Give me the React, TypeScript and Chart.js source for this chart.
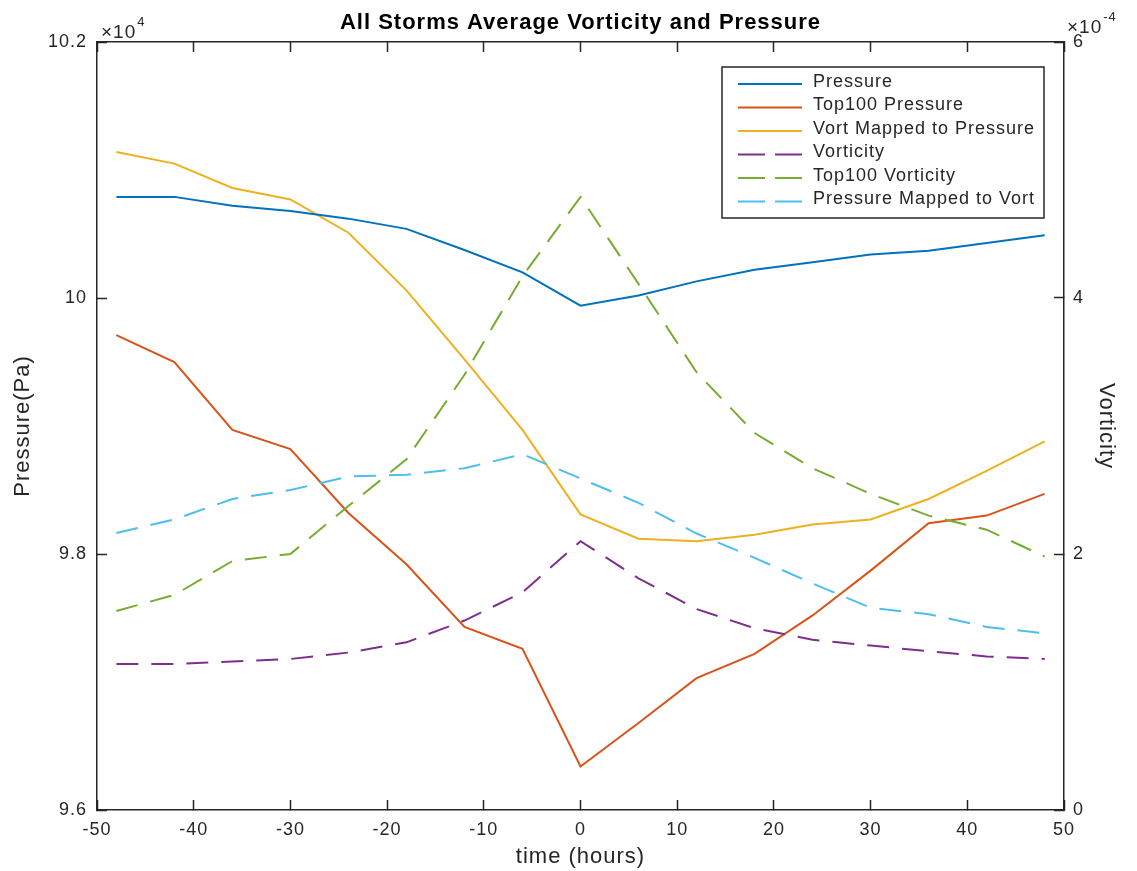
import { useEffect, useRef } from "react";
import Chart from "chart.js/auto";

// time relative to the storm peak, hours
const hours = [-48, -42, -36, -30, -24, -18, -12, -6, 0, 6, 12, 18, 24, 30, 36, 42, 48];

// left axis, Pa
const pressure = [100790, 100790, 100720, 100680, 100620, 100540, 100375, 100200, 99940, 100020, 100130, 100220, 100280, 100340, 100370, 100430, 100490];
const top100Pressure = [99710, 99500, 98970, 98820, 98320, 97920, 97430, 97260, 96340, 96680, 97030, 97220, 97520, 97870, 98240, 98300, 98470];
const vortMappedToPressure = [101140, 101050, 100860, 100770, 100510, 100060, 99520, 98970, 98310, 98120, 98100, 98150, 98230, 98270, 98430, 98650, 98880];

// right axis, 1/s
const vorticity = [1.14e-4, 1.14e-4, 1.16e-4, 1.18e-4, 1.23e-4, 1.31e-4, 1.48e-4, 1.7e-4, 2.1e-4, 1.81e-4, 1.57e-4, 1.42e-4, 1.33e-4, 1.285e-4, 1.24e-4, 1.2e-4, 1.18e-4];
const top100Vorticity = [1.555e-4, 1.68e-4, 1.945e-4, 2.0e-4, 2.375e-4, 2.74e-4, 3.4e-4, 4.17e-4, 4.79e-4, 4.11e-4, 3.42e-4, 2.945e-4, 2.67e-4, 2.47e-4, 2.3e-4, 2.19e-4, 1.98e-4];
const pressureMappedToVort = [2.164e-4, 2.27e-4, 2.43e-4, 2.5e-4, 2.605e-4, 2.62e-4, 2.67e-4, 2.78e-4, 2.59e-4, 2.4e-4, 2.16e-4, 1.97e-4, 1.77e-4, 1.58e-4, 1.53e-4, 1.43e-4, 1.38e-4];

const hourTicks = [-50, -40, -30, -20, -10, 0, 10, 20, 30, 40, 50];
const pressureTicks = [96000, 98000, 100000, 102000];
const vorticityTicks = [0, 2e-4, 4e-4, 6e-4];

const FONT = "'Liberation Sans', Arial, Helvetica, sans-serif";
const INK = "#262626";
const DASH = [22, 13];

const points = (ys: number[]) => hours.map((x, i) => ({ x, y: ys[i] }));

const useTicks = (values: number[]) => (scale: any) => {
  scale.ticks = values.map((value) => ({ value }));
};

// box legend in the upper right corner of the plot
const boxLegend = {
  id: "boxLegend",
  afterDraw(chart: any) {
    const { ctx, chartArea } = chart;
    const w = 322;
    const h = 151;
    const left = chartArea.right - 20 - w;
    const top = chartArea.top + 25;
    ctx.save();
    ctx.letterSpacing = "1px";
    ctx.fillStyle = "#fff";
    ctx.fillRect(left, top, w, h);
    ctx.strokeStyle = INK;
    ctx.lineWidth = 1.5;
    ctx.strokeRect(left, top, w, h);
    ctx.font = `18px ${FONT}`;
    ctx.textBaseline = "middle";
    ctx.textAlign = "left";
    chart.data.datasets.forEach((ds: any, i: number) => {
      const y = top + 17 + i * 23.5;
      ctx.beginPath();
      ctx.setLineDash(ds.borderDash && ds.borderDash.length ? [27, 10] : []);
      ctx.strokeStyle = ds.borderColor;
      ctx.lineWidth = 2;
      ctx.moveTo(left + 16, y);
      ctx.lineTo(left + 80, y);
      ctx.stroke();
      ctx.fillStyle = INK;
      ctx.fillText(ds.label, left + 91, y - 2);
    });
    ctx.restore();
  },
};

// the x10^n multipliers above both y axes
const exponents = {
  id: "exponents",
  afterDraw(chart: any) {
    const { ctx, chartArea } = chart;
    ctx.save();
    ctx.fillStyle = INK;
    ctx.textBaseline = "alphabetic";
    ctx.textAlign = "left";
    ctx.letterSpacing = "1px";
    const put = (x: number, y: number, exp: string) => {
      ctx.font = `19px ${FONT}`;
      ctx.fillText("×10", x, y);
      const w = ctx.measureText("×10").width;
      ctx.font = `13px ${FONT}`;
      ctx.fillText(exp, x + w + 1, y - 12);
    };
    put(chartArea.left + 4, chartArea.top - 4, "4");
    put(chartArea.right + 3, chartArea.top - 9, "-4");
    ctx.restore();
  },
};

// matlab text is drawn a bit wider than the canvas default
const spacing = {
  id: "spacing",
  beforeDraw(chart: any) {
    chart.ctx.letterSpacing = "1px";
  },
  afterDraw(chart: any) {
    chart.ctx.letterSpacing = "0px";
  },
};

const axisGrid = {
  drawOnChartArea: false,
  drawTicks: true,
  tickLength: -10,
  tickColor: INK,
  tickWidth: 1.5,
};
const axisBorder = { display: true, color: INK, width: 1.5 };

export default function App() {
  const canvasRef = useRef<HTMLCanvasElement>(null);

  useEffect(() => {
    if (!canvasRef.current) return;

    const chart = new Chart(canvasRef.current, {
      type: "line",
      data: {
        datasets: [
          { label: "Pressure", data: points(pressure), yAxisID: "y", borderColor: "#0072BD", order: 1 },
          { label: "Top100 Pressure", data: points(top100Pressure), yAxisID: "y", borderColor: "#D95319", order: 1 },
          { label: "Vort Mapped to Pressure", data: points(vortMappedToPressure), yAxisID: "y", borderColor: "#EDB120", order: 1 },
          { label: "Vorticity", data: points(vorticity), yAxisID: "y1", borderColor: "#7E2F8E", borderDash: DASH, order: 0 },
          { label: "Top100 Vorticity", data: points(top100Vorticity), yAxisID: "y1", borderColor: "#77AC30", borderDash: DASH, order: 0 },
          { label: "Pressure Mapped to Vort", data: points(pressureMappedToVort), yAxisID: "y1", borderColor: "#4DBEEE", borderDash: DASH, order: 0 },
        ],
      },
      options: {
        responsive: false,
        animation: false,
        events: [],
        layout: { padding: 0, autoPadding: false },
        elements: {
          line: { borderWidth: 2, tension: 0, fill: false },
          point: { radius: 0 },
        },
        plugins: {
          legend: { display: false },
          tooltip: { enabled: false },
          title: {
            display: true,
            fullSize: false,
            text: "All Storms Average Vorticity and Pressure",
            color: "#000",
            font: { family: FONT, size: 22, weight: "bold" },
            padding: { top: 10, bottom: 5.6 },
          },
        },
        scales: {
          x: {
            type: "linear",
            position: "bottom",
            min: -50,
            max: 50,
            afterBuildTicks: useTicks(hourTicks),
            afterFit: (s: any) => {
              s.height = 61;
            },
            ticks: { color: INK, font: { family: FONT, size: 18 }, padding: 19, maxRotation: 0 },
            grid: axisGrid,
            border: axisBorder,
            title: {
              display: true,
              text: "time (hours)",
              color: INK,
              font: { family: FONT, size: 22 },
              padding: { top: 0, bottom: 1 },
            },
          },
          xTop: {
            type: "linear",
            position: "top",
            min: -50,
            max: 50,
            afterBuildTicks: useTicks(hourTicks),
            afterFit: (s: any) => {
              s.height = 0;
            },
            ticks: { display: false },
            grid: axisGrid,
            border: axisBorder,
          },
          y: {
            type: "linear",
            position: "left",
            min: 96000,
            max: 102000,
            afterBuildTicks: useTicks(pressureTicks),
            afterFit: (s: any) => {
              s.width = 97;
            },
            ticks: {
              color: INK,
              font: { family: FONT, size: 18 },
              padding: 20,
              callback: (v: any) => String(Number((v / 1e4).toFixed(1))),
            },
            grid: axisGrid,
            border: axisBorder,
            title: {
              display: true,
              text: "Pressure(Pa)",
              color: INK,
              font: { family: FONT, size: 22 },
              padding: { top: 10, bottom: 0 },
            },
          },
          y1: {
            type: "linear",
            position: "right",
            min: 0,
            max: 6e-4,
            afterBuildTicks: useTicks(vorticityTicks),
            afterFit: (s: any) => {
              s.width = 73;
            },
            ticks: {
              color: INK,
              font: { family: FONT, size: 18 },
              padding: 19,
              callback: (v: any) => String(Math.round(v * 1e4)),
            },
            grid: axisGrid,
            border: axisBorder,
            title: {
              display: true,
              text: "Vorticity",
              color: INK,
              font: { family: FONT, size: 22 },
              padding: { top: 18, bottom: 0 },
            },
          },
        },
      },
      plugins: [boxLegend, exponents, spacing],
    } as any);

    return () => chart.destroy();
  }, []);

  return (
    <div style={{ position: "fixed", left: 0, top: 0, width: 1137, height: 871, background: "#fff" }}>
      <canvas ref={canvasRef} width={1137} height={871} />
    </div>
  );
}
